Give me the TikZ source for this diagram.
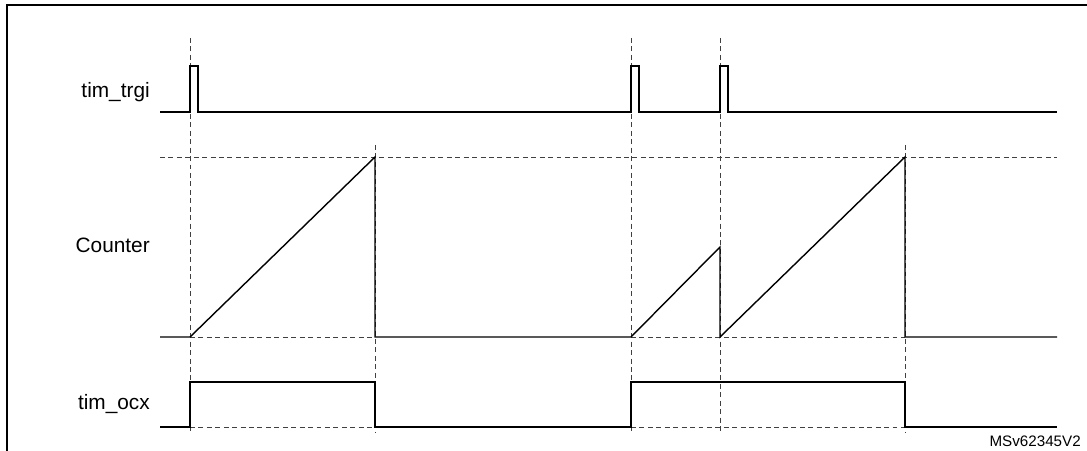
\documentclass[tikz,border=0pt]{standalone}
\usepackage{fontspec}
\setmainfont{Liberation Sans}
\tikzset{
  sig/.style={line width=1pt, line join=miter},
  guide/.style={black!75, dash pattern=on 3.5pt off 2.5pt, line width=0.6pt},
  lbl/.style={anchor=east, inner sep=0pt, font=\fontsize{14.8}{17}\selectfont},
}
\begin{document}
\begin{tikzpicture}[x=0.025cm, y=-0.025cm]
    \useasboundingbox (0,0) rectangle (1087,451);
    % frame
    \draw[line width=1.4pt] (7,460) -- (7,5) -- (1090,5);
    % signal names
    \node[lbl] (trgi) at (150,92) {tim\_trgi};
    \node[lbl] (cnt) at (150,245) {Counter};
    \node[lbl] (ocx) at (150,404) {tim\_ocx};
    \node[anchor=south east, inner sep=0pt, font=\fontsize{10.8}{12}\selectfont] (ref) at (1081,447) {MSv62345V2};
    % guides
    \foreach \x in {190,631,720}
        \draw[guide] (\x,38) -- (\x,432);
    \foreach \x in {375,905}
        \draw[guide] (\x,145) -- (\x,432);
    \draw[guide] (160,157) -- (1057,157);
    \draw[guide] (190,337) -- (375,337);
    \draw[guide] (631,337) -- (905,337);
    \draw[guide] (190,427) -- (375,427);
    \draw[guide] (631,427) -- (905,427);
    % tim_trgi
    \draw[sig] (160,112) -- (190,112) -- (190,66) -- (198,66) -- (198,112)
        -- (631,112) -- (631,66) -- (639,66) -- (639,112)
        -- (720,112) -- (720,66) -- (728,66) -- (728,112) -- (1057,112);
    % counter
    \draw[sig] (160,337) -- (190,337) -- (375,157) -- (375,337) -- (631,337)
        -- (720,247) -- (720,337) -- (905,157) -- (905,337) -- (1057,337);
    % tim_ocx
    \draw[sig] (160,427) -- (190,427) -- (190,382) -- (375,382) -- (375,427)
        -- (631,427) -- (631,382) -- (905,382) -- (905,427) -- (1057,427);
\end{tikzpicture}
\end{document}
